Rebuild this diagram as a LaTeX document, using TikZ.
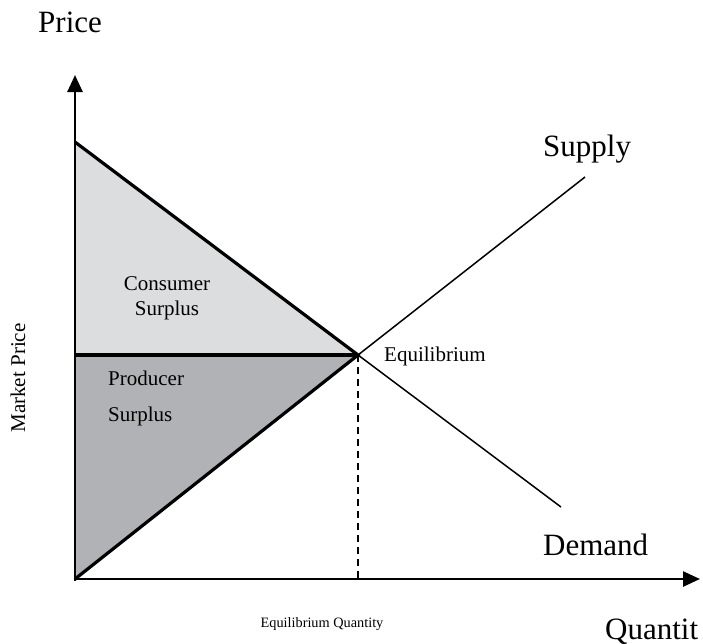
\documentclass[tikz,border=0pt]{standalone}
\usepackage{fontspec}
\setmainfont{Liberation Serif}
\usetikzlibrary{arrows.meta}
\definecolor{csgray}{HTML}{DCDDDF}
\definecolor{psgray}{HTML}{B1B2B5}
\begin{document}
\begin{tikzpicture}[x=1pt,y=-1pt,
  bigtxt/.style={font=\fontsize{31}{33}\selectfont, inner sep=0pt},
  smalltxt/.style={font=\fontsize{14.3}{25}\selectfont, inner sep=0pt, align=center},
  midtxt/.style={font=\fontsize{21}{25}\selectfont, inner sep=0pt, align=center},
  thickline/.style={line width=3.2pt, line join=miter},
  thinline/.style={line width=1.5pt},
  axis/.style={line width=2.6pt, -{Triangle[length=17pt,width=15pt]}}]
\useasboundingbox (0,0) rectangle (703,643);
\coordinate (O) at (75,579);
\coordinate (Ytop) at (75,75);
\coordinate (Xend) at (700,579);
\coordinate (D0) at (75,142);
\coordinate (E) at (358,355);
\coordinate (PM) at (75,355);
\coordinate (Sup) at (585,177);
\coordinate (Dem) at (561,507);
\coordinate (EQ) at (358,579);
% fills
\fill[csgray] (D0) -- (E) -- (PM) -- cycle;
\fill[psgray] (PM) -- (E) -- (O) -- cycle;
% thin continuations
\draw[thinline] (E) -- (Sup);
\draw[thinline] (E) -- (Dem);
\draw[line width=1.6pt, dash pattern=on 7pt off 5pt] (E) -- (EQ);
% thick lines
\draw[thickline] (D0) -- (E) -- (O);
\draw[thickline] (PM) -- (E);
% axes
\draw[axis] (75,580.5) -- (Ytop);
\draw[axis] (73.7,579) -- (Xend);
% texts
\node[bigtxt, anchor=base west] (price) at (38,32) {Price};
\node[bigtxt, anchor=base west] (supply) at (543,156) {Supply};
\node[bigtxt, anchor=base west] (demand) at (543,555) {Demand};
\node[bigtxt, anchor=base west] (quant) at (605,639) {Quantit};
\node[midtxt, anchor=base west] (eql) at (384,361) {Equilibrium};
\node[smalltxt, anchor=base] (eqq) at (322,627) {Equilibrium Quantity};
\node[midtxt] (cs) at (167,298) {Consumer\\Surplus};
\node[midtxt, font=\fontsize{21}{36}\selectfont, align=left, anchor=north west] (ps) at (108,371) {Producer\\Surplus};
\node[midtxt, rotate=90] (mp) at (18,378) {Market Price};
\end{tikzpicture}
\end{document}
